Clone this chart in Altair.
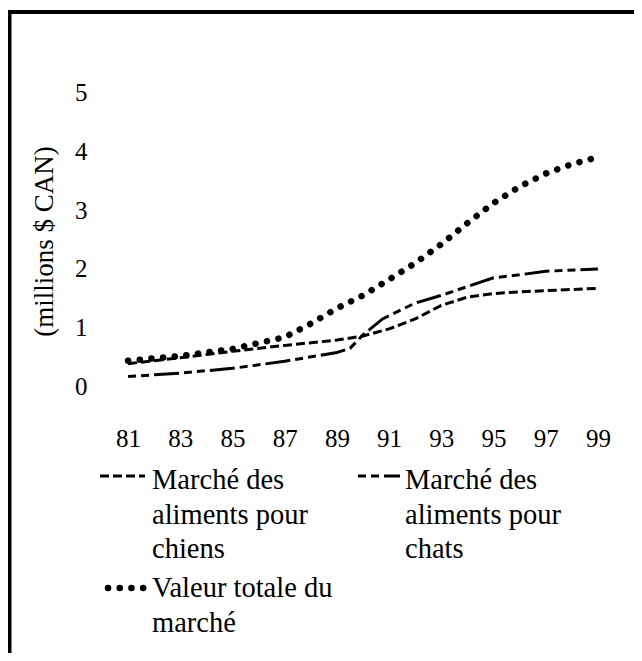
import altair as alt
import pandas as pd

# ---- data ----
years_dog = [81, 83, 85, 87, 89, 90, 91, 92, 93, 94, 95, 96, 97, 99]
dogs = [0.39, 0.49, 0.60, 0.70, 0.79, 0.86, 0.98, 1.15, 1.38, 1.52, 1.58, 1.61, 1.63, 1.67]

years_cat = [81, 83, 85, 87, 89, 89.5, 90, 90.75, 92, 93, 94, 95, 96, 97, 99]
cats = [0.17, 0.23, 0.31, 0.43, 0.58, 0.65, 0.88, 1.15, 1.42, 1.55, 1.70, 1.85, 1.90, 1.96, 2.00]

years_tot = [81, 83, 85, 87, 88, 89, 90, 91, 92, 93, 94, 95, 96, 97, 98, 99]
total = [0.44, 0.52, 0.64, 0.84, 1.07, 1.33, 1.55, 1.82, 2.10, 2.42, 2.78, 3.12, 3.40, 3.62, 3.78, 3.90]

x_ticks = [81, 83, 85, 87, 89, 91, 93, 95, 97, 99]
y_ticks = [0, 1, 2, 3, 4, 5]
y_title = "(millions $ CAN)"
label_dog = ["Marché des", "aliments pour", "chiens"]
label_cat = ["Marché des", "aliments pour", "chats"]
label_tot = ["Valeur totale du", "marché"]

FONT = "Liberation Serif"
INK = "#000000"

# ---- layout (plot-area pixel space) ----
W, H = 522, 353
PAD = {"left": 94, "top": 55, "right": 10, "bottom": 237}

dash_dog = [9, 4]
dash_cat = [8, 5, 8, 5, 25, 5]
dash_tot = [0.1, 11.6]

df_dog = pd.DataFrame({"year": years_dog, "value": dogs})
df_cat = pd.DataFrame({"year": years_cat, "value": cats})
df_tot = pd.DataFrame({"year": years_tot, "value": total})

xscale = alt.Scale(domain=[80, 100], nice=False, zero=False)
yscale = alt.Scale(domain=[-0.5, 5.5], nice=False, zero=False)

xenc = alt.X(
    "year:Q", scale=xscale,
    axis=alt.Axis(values=x_ticks, title=None, domain=False, ticks=False, grid=False,
                  format="d", labelFont=FONT, labelFontSize=25, labelColor=INK,
                  labelPadding=10, labelFlush=False, labelOverlap=False),
)
yenc = alt.Y(
    "value:Q", scale=yscale,
    axis=alt.Axis(values=y_ticks, title=y_title, domain=False, ticks=False, grid=False,
                  format="d", labelFont=FONT, labelFontSize=25, labelColor=INK, labelPadding=15,
                  labelFlush=False, titleFont=FONT, titleFontSize=27, titleFontWeight="normal",
                  titleColor=INK, titleAngle=270, titleX=-58, titleY=178,
                  titleAlign="center", titleBaseline="middle"),
)

line_dog = alt.Chart(df_dog).mark_line(color=INK, strokeWidth=3, strokeDash=dash_dog).encode(x=xenc, y=yenc)
line_cat = alt.Chart(df_cat).mark_line(color=INK, strokeWidth=3, strokeDash=dash_cat).encode(x="year:Q", y="value:Q")
line_tot = alt.Chart(df_tot).mark_line(color=INK, strokeWidth=6.5, strokeDash=dash_tot,
                                       strokeCap="round").encode(x="year:Q", y="value:Q")

one = alt.Data(values=[{"k": 1}])

def sym(x1, x2, y, dash, width, cap="butt"):
    return alt.Chart(one).mark_rule(color=INK, strokeWidth=width, strokeDash=dash, strokeCap=cap).encode(
        x=alt.value(x1), x2=alt.value(x2), y=alt.value(y))

def txt(x, y, lines):
    return alt.Chart(one).mark_text(font=FONT, fontSize=28.5, color=INK, align="left",
                                    baseline="alphabetic", lineHeight=34.5).encode(
        x=alt.value(x), y=alt.value(y), text=alt.value(lines))

leg = [
    sym(-2, 43, 413, dash_dog, 3),
    txt(50, 426, label_dog),
    sym(256, 298, 413, dash_cat, 3),
    txt(303, 426, label_cat),
    sym(6, 43, 525, dash_tot, 6.5, "round"),
    txt(50, 534, label_tot),
]

frame_top = alt.Chart(one).mark_rule(color=INK, strokeWidth=4).encode(
    x=alt.value(-94), x2=alt.value(540), y=alt.value(-51))
frame_left = alt.Chart(one).mark_rule(color=INK, strokeWidth=4).encode(
    x=alt.value(-92.5), y=alt.value(-53), y2=alt.value(600))

chart = alt.layer(line_dog, line_cat, line_tot, *leg, frame_top, frame_left).properties(
    width=W, height=H, autosize=alt.AutoSizeParams(type="none"), padding=PAD,
    background="white",
).configure_view(stroke=None)

chart.save("out.html", embed_options={"renderer": "svg", "actions": False})
